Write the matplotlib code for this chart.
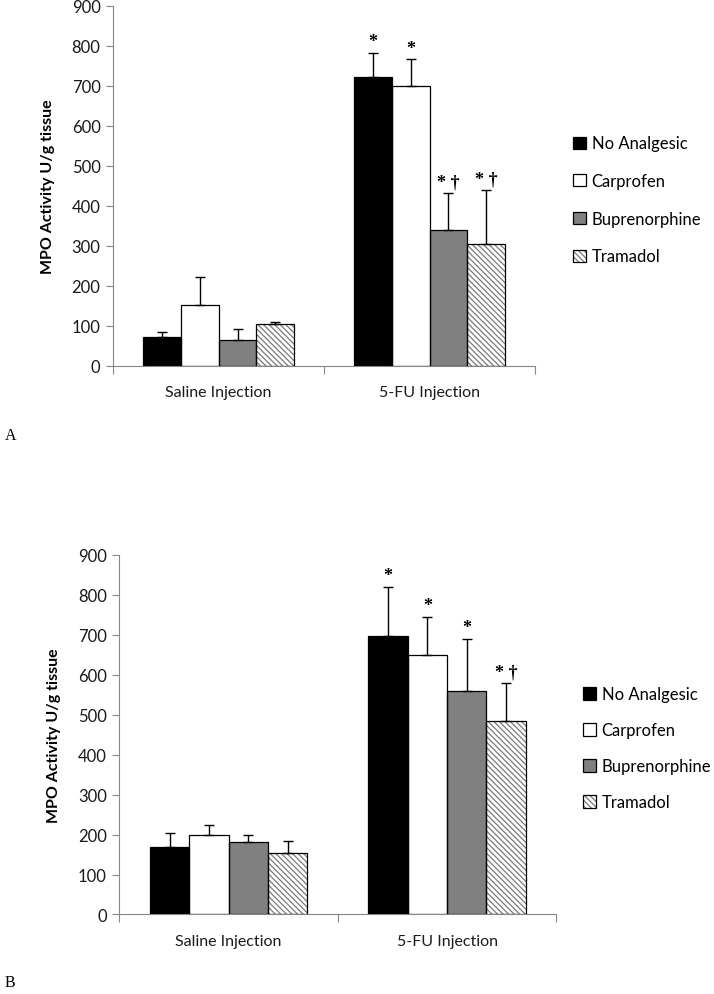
import numpy as np
import matplotlib
matplotlib.use("Agg")
import matplotlib.pyplot as plt
from matplotlib.legend_handler import HandlerTuple

# data (MPO activity, U/g tissue)
groups = ["Saline Injection", "5-FU Injection"]
treatments = ["No Analgesic", "Carprofen", "Buprenorphine", "Tramadol"]

means_a = [[71, 722], [152, 700], [64, 338], [104, 303]]
errs_a = [[12, 60], [69, 66], [28, 94], [6, 135]]
marks_a = [["", "*"], ["", "*"], ["", "* †"], ["", "* †"]]

means_b = [[170, 697], [198, 650], [182, 560], [154, 485]]
errs_b = [[34, 122], [25, 94], [18, 129], [31, 93]]
marks_b = [["", "*"], ["", "*"], ["", "*"], ["", "* †"]]

yticks = list(range(0, 1000, 100))

# bar styles: face, hatch
faces = ["black", "white", "#808080", "white"]
hatches = ["", "", "", "\\\\\\\\\\\\"]

plt.rcParams["font.family"] = ["Lato", "DejaVu Sans"]
plt.rcParams["hatch.linewidth"] = 0.9
axis_grey = "#868686"
width = 0.18


def draw_panel(ax, means, errs, marks, legend_xy, spacing):
    x = np.arange(len(groups))
    handles = []
    for i, name in enumerate(treatments):
        xi = x + (i - 1.5) * width
        # fill layer (hatch drawn in grey), then black outline on top
        fill = ax.bar(xi, means[i], width, color=faces[i], edgecolor="#7a7a7a",
                      linewidth=0, hatch=hatches[i], zorder=2)
        edge = ax.bar(xi, means[i], width, fill=False, edgecolor="black",
                      linewidth=0.9, zorder=3)
        ax.errorbar(xi, means[i], yerr=[np.zeros(len(groups)), errs[i]], fmt="none",
                    ecolor="black", elinewidth=1.0, capsize=3.8, capthick=1.0, zorder=4)
        for xx, m, e, t in zip(xi, means[i], errs[i], marks[i]):
            if t:
                ax.annotate(t, (xx, m + e), xytext=(0, 8), textcoords="offset points",
                            ha="center", va="center", fontsize=13,
                            family=["Liberation Serif", "DejaVu Serif"], fontweight="bold")
        handles.append((fill, edge))

    ax.set_xlim(-0.5, 1.5)
    ax.set_ylim(0, 900)
    ax.set_yticks(yticks)
    ax.set_xticks(x)
    ax.set_xticklabels(groups, fontsize=11.5, color="#1a1a1a")
    ax.set_xticks([-0.5, 0.5, 1.5], minor=True)
    ax.tick_params(axis="x", which="major", length=0, pad=14)
    ax.tick_params(axis="x", which="minor", length=6, width=0.8, color=axis_grey, direction="out")
    ax.tick_params(axis="y", length=5, width=0.8, color=axis_grey, labelsize=12,
                   labelcolor="#1a1a1a", pad=4)
    for s in ["top", "right"]:
        ax.spines[s].set_visible(False)
    for s in ["left", "bottom"]:
        ax.spines[s].set_color(axis_grey)
        ax.spines[s].set_linewidth(0.8)
    ax.set_ylabel("MPO Activity U/g tissue", fontsize=11.5, fontweight="bold", labelpad=12)

    fig.legend(handles, treatments, loc="center left", bbox_to_anchor=legend_xy,
               frameon=False, fontsize=12, handlelength=0.75, handleheight=0.75,
               handletextpad=0.35, labelspacing=spacing, borderaxespad=0, borderpad=0,
               handler_map={tuple: HandlerTuple(ndivide=1)})


fig = plt.figure(figsize=(7.14, 9.95), dpi=100)
ax_a = fig.add_axes([0.1583, 0.6315, 0.591, 0.3618])
ax_b = fig.add_axes([0.1671, 0.0799, 0.612, 0.3618])

draw_panel(ax_a, means_a, errs_a, marks_a, (0.803, 0.798), 1.3)
draw_panel(ax_b, means_b, errs_b, marks_b, (0.817, 0.247), 1.2)

fig.text(0.007, 0.558, "A", fontsize=11.5, family=["Liberation Serif"])
fig.text(0.007, 0.008, "B", fontsize=11.5, family=["Liberation Serif"])

fig.savefig("out.png", dpi=100)
